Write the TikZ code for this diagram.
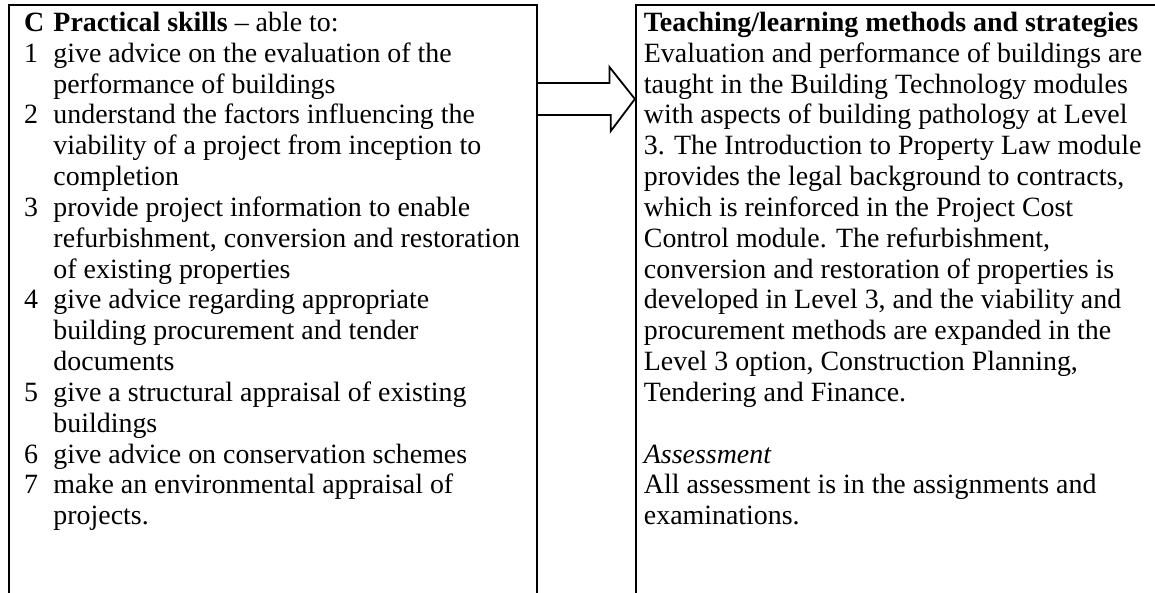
\documentclass[tikz,border=0pt]{standalone}
\usepackage{fontspec}
\setmainfont{Liberation Serif}
\usetikzlibrary{positioning}

\newcommand{\itemno}[1]{\makebox[13pt][l]{#1}}
\newcommand{\itemgap}{\hspace*{13pt}}

\begin{document}
\begin{tikzpicture}[x=1pt,y=1pt,line width=0.8pt,line join=miter,
                    box/.style={draw,rectangle,inner sep=0pt,minimum height=290pt},
                    txt/.style={inner sep=0pt,align=left,font=\fontsize{12.4pt}{13.7pt}\selectfont}]
  \useasboundingbox (0,0) rectangle (513.3,263.1);
  \clip (0,0) rectangle (513.3,263.1);
  \node[box,minimum width=234.7pt,anchor=north west] (lbox) at (3.56,261.3) {};
  \node[box,minimum width=240pt] (rbox) [right=43.1pt of lbox] {};
  \node[txt] (skills) [below right=2.2pt and 6.8pt of lbox.north west]
    {\strut\itemno{\textbf{C}}\textbf{Practical skills} -- able to:\\
     \itemno{1}give advice on the evaluation of the\\
     \itemgap performance of buildings\\
     \itemno{2}understand the factors influencing the\\
     \itemgap viability of a project from inception to\\
     \itemgap completion\\
     \itemno{3}provide project information to enable\\
     \itemgap refurbishment, conversion and restoration\\
     \itemgap of existing properties\\
     \itemno{4}give advice regarding appropriate\\
     \itemgap building procurement and tender\\
     \itemgap documents\\
     \itemno{5}give a structural appraisal of existing\\
     \itemgap buildings\\
     \itemno{6}give advice on conservation schemes\\
     \itemno{7}make an environmental appraisal of\\
     \itemgap projects.};
  \node[txt] (methods) [below right=2.2pt and 3.6pt of rbox.north west]
    {\strut\textbf{Teaching/learning methods and strategies}\\
     Evaluation and performance of buildings are\\
     taught in the Building Technology modules\\
     with aspects of building pathology at Level\\
     3. The Introduction to Property Law module\\
     provides the legal background to contracts,\\
     which is reinforced in the Project Cost\\
     Control module. The refurbishment,\\
     conversion and restoration of properties is\\
     developed in Level 3, and the viability and\\
     procurement methods are expanded in the\\
     Level 3 option, Construction Planning,\\
     Tendering and Finance.\\
     \strut\\
     \textit{Assessment}\\
     All assessment is in the assignments and\\
     examinations.};
  \draw (lbox.east |- 0,226.2) -- ++(31.8,0) -- ++(0,7.1) -- (rbox.west |- 0,219.1)
        -- ++(-10.7,-14.2) -- ++(0,7.1) -- (lbox.east |- 0,212);
\end{tikzpicture}
\end{document}
